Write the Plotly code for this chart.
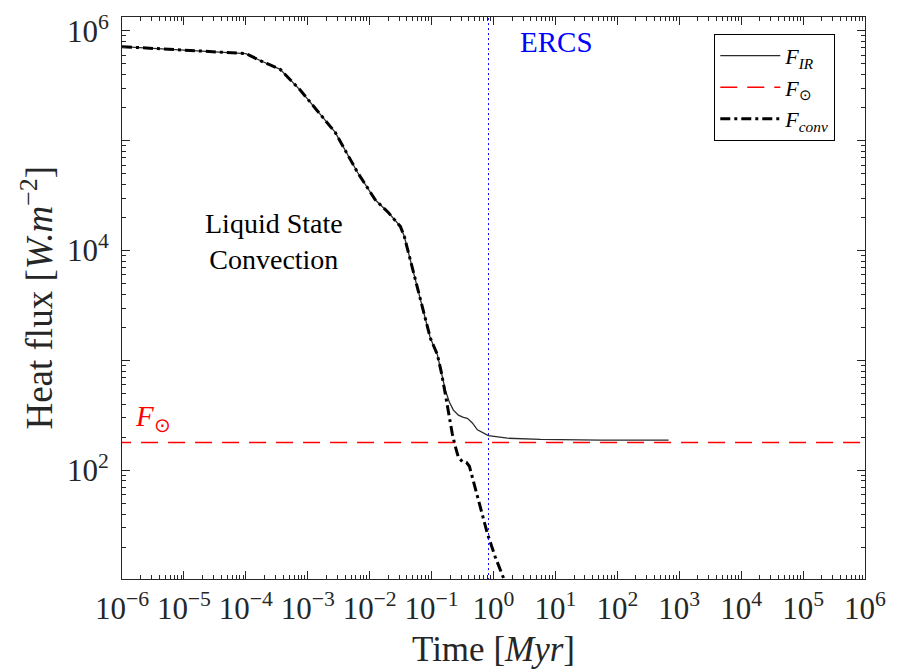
import plotly.graph_objects as go

# ---- data ----
time_ir = [1e-6, 1e-5, 1e-4, 1.70e-4, 3.59e-4, 7.55e-4, 1.37e-3, 2.78e-3, 6.31e-3,
           1.23e-2, 2.00e-2, 3.13e-2, 3.62e-2, 5.07e-2, 7.08e-2, 9.54e-2, 0.124,
           0.144, 0.167, 0.194, 0.225, 0.271, 0.326, 0.378, 0.456, 0.549, 0.828,
           1.68, 5.73, 53.5, 673]
flux_ir = [7.18e5, 6.68e5, 6.21e5, 5.37e5, 4.46e5, 2.89e5, 1.91e5, 1.19e5, 5.19e4,
           2.90e4, 2.22e4, 1.66e4, 1.35e4, 6.55e3, 3.17e3, 1.60e3, 1.13e3,
           776, 535, 417, 353, 318, 303, 297, 270, 234, 207,
           196, 191, 188, 188]

time_conv = [1e-6, 1e-5, 1e-4, 1.70e-4, 3.59e-4, 7.55e-4, 1.37e-3, 2.78e-3, 6.31e-3,
             1.23e-2, 2.00e-2, 3.13e-2, 3.62e-2, 5.07e-2, 7.08e-2, 9.54e-2, 0.124,
             0.144, 0.167, 0.194, 0.216, 0.242, 0.271, 0.314, 0.365, 0.408, 0.473,
             0.614, 0.796, 1.07, 1.45, 1.74]
flux_conv = [7.18e5, 6.68e5, 6.21e5, 5.37e5, 4.46e5, 2.89e5, 1.91e5, 1.19e5, 5.19e4,
             2.90e4, 2.22e4, 1.66e4, 1.35e4, 6.55e3, 3.17e3, 1.60e3, 1.13e3,
             776, 492, 306, 215, 164, 131, 120, 118, 109, 79.6,
             45.5, 26.6, 16.2, 10.5, 8.1]

f_sun = 179.0          # W m^-2, horizontal reference
t_ercs = 0.83          # Myr, ERCS vertical marker
x_span = [1e-7, 1e7]
y_span = [1, 1e7]

x_exponents = list(range(-6, 7))
y_exponents = list(range(1, 7))
y_labelled = [2, 4, 6]

FONT = "Liberation Serif"
AX_COL = "#262626"

fig = go.Figure()
fig.add_trace(go.Scatter(x=time_ir, y=flux_ir, mode="lines", name="<i>F</i><sub><i>IR</i></sub>",
                         line=dict(color="#2a2a2a", width=1.3)))
fig.add_trace(go.Scatter(x=x_span, y=[f_sun, f_sun], mode="lines", name="<i>F</i><sub>⊙</sub>",
                         line=dict(color="#ff0000", width=1.5, dash="17px,10px")))
fig.add_trace(go.Scatter(x=time_conv, y=flux_conv, mode="lines", name="<i>F</i><sub><i>conv</i></sub>",
                         line=dict(color="#000000", width=3, dash="10px,4px,3px,4px")))
fig.add_trace(go.Scatter(x=[t_ercs, t_ercs], y=y_span, mode="lines", showlegend=False,
                         line=dict(color="#0000ff", width=1, dash="2px,3px")))

def sup(e):
    return "10<sup>" + str(e).replace("-", "−") + "</sup>"

x_minor = [m * 10.0 ** k for k in range(-6, 6) for m in range(2, 10)]
y_minor = [m * 10.0 ** k for k in range(1, 7) for m in range(2, 10)]

common = dict(type="log", showline=True, linecolor=AX_COL, linewidth=1, mirror="ticks",
              ticks="inside", ticklen=8, tickwidth=1, tickcolor=AX_COL, showgrid=False,
              zeroline=False, tickfont=dict(family=FONT, size=31, color=AX_COL))

fig.update_xaxes(range=[-6, 6], tickmode="array",
                 tickvals=[10.0 ** e for e in x_exponents],
                 ticktext=[sup(e) for e in x_exponents],
                 minor=dict(tickmode="array", tickvals=x_minor, ticks="inside", ticklen=4,
                            tickcolor=AX_COL, showgrid=False),
                 ticklabelstandoff=2, **common)
fig.update_yaxes(range=[1.011, 6.126], tickmode="array",
                 tickvals=[10.0 ** e for e in y_exponents],
                 ticktext=[sup(e) if e in y_labelled else "" for e in y_exponents],
                 minor=dict(tickmode="array", tickvals=y_minor, ticks="inside", ticklen=4,
                            tickcolor=AX_COL, showgrid=False),
                 ticklabelstandoff=6, **common)

annotations = [
    dict(x=0.5, y=-0.125, xref="paper", yref="paper", text="Time [<i>Myr</i>]",
         showarrow=False, font=dict(family=FONT, size=35, color=AX_COL), xanchor="center", yanchor="middle"),
    dict(x=-0.115, y=0.5, xref="paper", yref="paper", text="Heat flux [<i>W.m</i><sup>−2</sup>]",
         showarrow=False, textangle=-90, font=dict(family=FONT, size=37, color=AX_COL),
         xanchor="center", yanchor="middle"),
    dict(x=-3.543, y=4.085, xref="x", yref="y", text="Liquid State<br>Convection",
         showarrow=False, font=dict(family=FONT, size=28, color="#000000"), xanchor="center", yanchor="middle"),
    dict(x=1.017, y=5.90, xref="x", yref="y", text="ERCS",
         showarrow=False, font=dict(family=FONT, size=29, color="#0000ff"), xanchor="center", yanchor="middle"),
    dict(x=-5.82, y=2.48, xref="x", yref="y", text="<i>F</i><sub>⊙</sub>",
         showarrow=False, font=dict(family=FONT, size=29, color="#ff0000"), xanchor="left", yanchor="middle"),
]

fig.update_layout(
    width=900, height=670,
    margin=dict(l=122, r=35, t=10, b=91),
    paper_bgcolor="white", plot_bgcolor="white",
    annotations=annotations,
    legend=dict(x=0.96, y=0.97, xanchor="right", yanchor="top", bgcolor="white",
                bordercolor="#000000", borderwidth=1, itemwidth=60,
                font=dict(family=FONT, size=22, color="#000000"), tracegroupgap=0),
)

fig.write_html("out.html")
